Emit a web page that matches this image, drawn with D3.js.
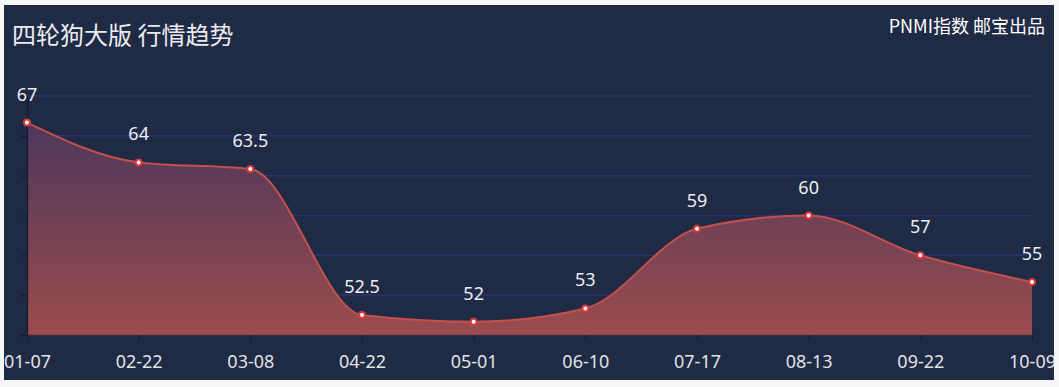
<!DOCTYPE html>
<html><head><meta charset="utf-8">
<script src="https://cdn.jsdelivr.net/npm/d3@7"></script>
<style>html,body{margin:0;padding:0;background:#f6f6f6;}svg{display:block;}</style>
</head><body>
<svg id="c" width="1059" height="387"></svg>
<script>
const categories = ["01-07","02-22","03-08","04-22","05-01","06-10","07-17","08-13","09-22","10-09"];
const values = [67, 64, 63.5, 52.5, 52, 53, 59, 60, 57, 55];
const yTicks = [51, 54, 57, 60, 63, 66, 69];
const title = "四轮狗大版 行情趋势";
const subtitle = "PNMI指数 邮宝出品";

const svg = d3.select("#c");
const panel = {x: 4, y: 5, w: 1050, h: 375};
const defs = svg.append("defs");
defs.append("clipPath").attr("id","clip").append("rect")
  .attr("x",panel.x).attr("y",panel.y).attr("width",panel.w).attr("height",panel.h);
const grad = defs.append("linearGradient").attr("id","ag").attr("x1",0).attr("y1",0).attr("x2",0).attr("y2",1);
grad.append("stop").attr("offset","0%").attr("stop-color","#4d375c");
grad.append("stop").attr("offset","100%").attr("stop-color","#9b4c4d");

svg.append("rect").attr("x",panel.x).attr("y",panel.y).attr("width",panel.w).attr("height",panel.h).attr("fill","#1f2a45");
const g = svg.append("g").attr("clip-path","url(#clip)");

const x = d3.scalePoint().domain(categories).range([27, 1032]);
const y = d3.scaleLinear().domain([51, 69]).range([335, 96]);

// grid
g.append("g").selectAll("line").data(yTicks.slice(1)).join("line")
  .attr("x1",27).attr("x2",1032).attr("y1",d=>y(d)).attr("y2",d=>y(d))
  .attr("stroke","#2e2f72").attr("stroke-width",1.5);

const pts = categories.map((c,i)=>[x(c), y(values[i])]);
const area = d3.area().x(d=>d[0]).y0(y(51)).y1(d=>d[1]).curve(d3.curveMonotoneX);
const line = d3.line().x(d=>d[0]).y(d=>d[1]).curve(d3.curveMonotoneX);
g.append("path").attr("d",area(pts)).attr("fill","url(#ag)");
g.append("path").attr("d",line(pts)).attr("fill","none").attr("stroke","#c4504c").attr("stroke-width",2);

// axes
const yAxis = d3.axisLeft(y).tickValues(yTicks).tickSize(6).tickFormat("");
const ya = g.append("g").attr("transform","translate(27,0)").call(yAxis);
ya.selectAll("path,line").attr("stroke","#151b2c").attr("stroke-width",1.2);
const xAxis = d3.axisBottom(x).tickSize(6).tickPadding(10);
const xa = g.append("g").attr("transform",`translate(0,${y(51)})`).call(xAxis);
xa.select(".domain").attr("stroke","#3a2f3f").attr("stroke-width",1.5);
xa.selectAll(".tick line").attr("stroke","#151b2c");
xa.selectAll("text").attr("fill","#e2e2e6").attr("font-size","18px")
  .attr("font-family","'Noto Sans', sans-serif").attr("dy",null).attr("y",null)
  .attr("transform","translate(0,33)");

// points
g.append("g").selectAll("circle").data(pts).join("circle")
  .attr("cx",d=>d[0]).attr("cy",d=>d[1]).attr("r",3)
  .attr("fill","#fff").attr("stroke","#d9383a").attr("stroke-width",2);

// labels
g.append("g").selectAll("text").data(pts).join("text")
  .attr("x",d=>d[0]).attr("y",d=>d[1]-22).attr("text-anchor","middle")
  .attr("fill","#eeeef2").attr("font-size","18px").attr("font-family","'Noto Sans', sans-serif")
  .text((d,i)=>values[i]);

// titles
g.append("text").attr("x",12).attr("y",44).attr("fill","#ececf0").attr("font-size","24px")
  .attr("font-family","'Noto Sans CJK SC', sans-serif").text(title);
g.append("text").attr("x",1045).attr("y",33).attr("text-anchor","end").attr("fill","#ffffff").attr("font-size","18px")
  .attr("font-family","'Noto Sans CJK SC', sans-serif").text(subtitle);
</script>
</body></html>
